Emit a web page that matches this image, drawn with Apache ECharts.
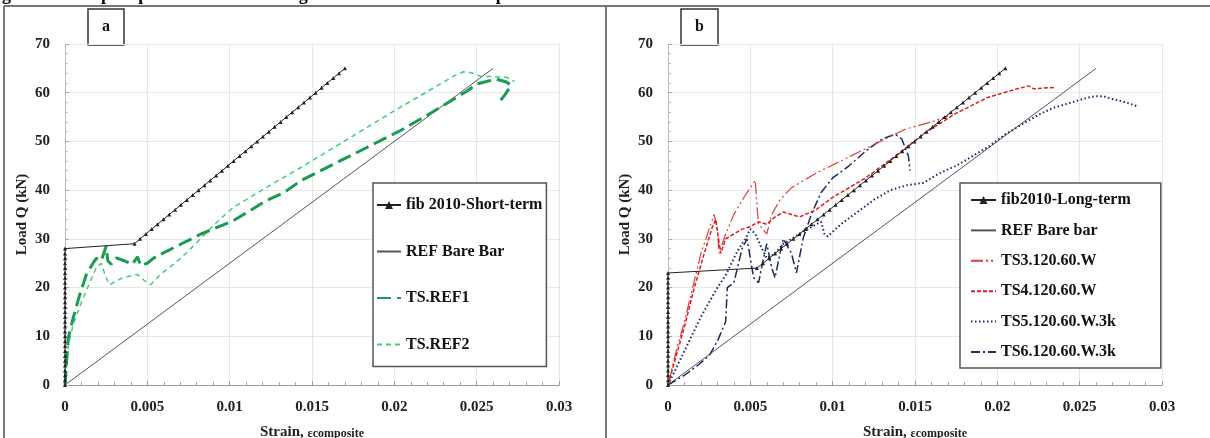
<!DOCTYPE html>
<html>
<head>
<meta charset="utf-8">
<style>
  html, body { margin: 0; padding: 0; background: #fff; }
  #chart { width: 1210px; height: 438px; }
</style>
<script src="https://cdn.jsdelivr.net/npm/echarts@6/dist/echarts.min.js"></script>
</head>
<body>
<div id="chart"></div>
<script>
// ---- panel a : strain vs load (x = strain, y = load Q in kN) ----
const fibShortTerm = [
  [0,0],[0,1],[0,2],[0,3],[0,4],[0,5],[0,6],[0,7],[0,8],[0,9],[0,10],[0,11],[0,12],[0,13],[0,14],
  [0,15],[0,16],[0,17],[0,18],[0,19],[0,20],[0,21],[0,22],[0,23],[0,24],[0,25],[0,26],[0,27],[0,28],
  [0.00422,29],[0.00456,30],[0.00491,31],[0.00527,32],[0.00562,33],[0.00598,34],[0.00633,35],
  [0.00669,36],[0.00704,37],[0.0074,38],[0.00776,39],[0.00811,40],[0.00847,41],[0.00882,42],
  [0.00918,43],[0.00953,44],[0.00989,45],[0.01024,46],[0.0106,47],[0.01096,48],[0.01131,49],
  [0.01167,50],[0.01202,51],[0.01238,52],[0.01273,53],[0.01309,54],[0.01344,55],[0.0138,56],
  [0.01416,57],[0.01451,58],[0.01487,59],[0.01522,60],[0.01558,61],[0.01593,62],[0.01629,63],
  [0.01664,64],[0.017,65]
]
const refBareA = [[0,0],[0.026,65]]
const tsRef1 = [
  [0,0],[0.0001,5],[0.0002,9.7],[0.0005,13.8],[0.0009,18.6],[0.0013,22.7],[0.0017,25],[0.0019,26],
  [0.0022,25.5],[0.0025,28.5],[0.0026,25.5],[0.0028,24.8],[0.0031,26.1],[0.0036,25.5],[0.0041,24.8],
  [0.0044,26.3],[0.0046,24.5],[0.005,25],[0.0054,26.1],[0.0062,27.5],[0.0072,29.2],[0.0082,30.9],
  [0.0092,32.3],[0.0102,33.7],[0.0112,35.7],[0.0122,37.8],[0.0133,39.5],[0.0143,41.9],[0.0163,45.3],
  [0.0183,48.7],[0.0203,52.1],[0.0224,56.2],[0.0244,60.3],[0.025,61.8],[0.0256,62.3],[0.0262,62.8],
  [0.0268,62.2],[0.0271,61.5],[0.0267,59.5],[0.0264,58.2]
]
const tsRef2 = [
  [0,0],[0.0001,4],[0.0002,8],[0.0005,12.5],[0.001,17],[0.0015,21],[0.0019,24.1],[0.0022,25],
  [0.0025,22],[0.0027,20.6],[0.0031,21.3],[0.0035,22],[0.0044,22.7],[0.0048,21.5],[0.0052,20.6],
  [0.0058,22.7],[0.0066,24.8],[0.0075,27.5],[0.0085,31],[0.0094,34],[0.0102,36.4],[0.0122,40.5],
  [0.0143,44.6],[0.0163,48.7],[0.0183,52.8],[0.0203,56.9],[0.0224,61],[0.0236,63.4],[0.0242,64.3],
  [0.0248,64],[0.0252,63.4],[0.026,63.3],[0.0268,63.2],[0.0273,62.3]
]

// ---- panel b ----
const fibLongTerm = [
  [0,0],[0,1],[0,2],[0,3],[0,4],[0,5],[0,6],[0,7],[0,8],[0,9],[0,10],[0,11],[0,12],[0,13],[0,14],
  [0,15],[0,16],[0,17],[0,18],[0,19],[0,20],[0,21],[0,22],[0,23],
  [0.0054,24],[0.00577,25],[0.00614,26],[0.0065,27],[0.00687,28],[0.00724,29],[0.00761,30],
  [0.00798,31],[0.00834,32],[0.00871,33],[0.00908,34],[0.00945,35],[0.00982,36],[0.01018,37],
  [0.01055,38],[0.01092,39],[0.01129,40],[0.01166,41],[0.01202,42],[0.01239,43],[0.01276,44],
  [0.01313,45],[0.0135,46],[0.01386,47],[0.01423,48],[0.0146,49],[0.01497,50],[0.01534,51],
  [0.0157,52],[0.01607,53],[0.01644,54],[0.01681,55],[0.01718,56],[0.01754,57],[0.01791,58],
  [0.01828,59],[0.01865,60],[0.01902,61],[0.01938,62],[0.01975,63],[0.02012,64],[0.02049,65]
]
const refBareB = [[0,0],[0.026,65]]
const ts3 = [
  [0,0],[0.0005,7],[0.001,13],[0.0015,20],[0.002,27],[0.0025,32],[0.0028,35],[0.003,32],[0.0031,27],
  [0.0035,31],[0.004,35],[0.0047,39],[0.0053,42],[0.0054,37],[0.0055,33],[0.006,31],[0.0063,35],
  [0.0068,38],[0.0075,40.5],[0.009,43.5],[0.0105,46],[0.012,48.5],[0.0135,51],[0.0144,52.5],
  [0.016,54],[0.017,55.2]
]
const ts4 = [
  [0,0],[0.0005,6],[0.001,12],[0.0016,20],[0.0022,27],[0.0027,32.5],[0.0029,34],[0.0032,27],
  [0.0035,30],[0.004,31],[0.0045,32],[0.005,32.5],[0.0055,33.5],[0.006,33],[0.0065,34.5],
  [0.007,35.5],[0.0075,35],[0.008,34.5],[0.009,36],[0.01,38.5],[0.012,42.5],[0.014,47.5],
  [0.0155,51.5],[0.0174,55.6],[0.0194,59],[0.0211,60.7],[0.0219,61.4],[0.0222,60.8],[0.0235,61.1]
]
const ts5 = [
  [0,0],[0.0005,3.5],[0.001,7],[0.0015,10.5],[0.002,14],[0.0025,17],[0.003,20],[0.0035,22.5],
  [0.004,26],[0.0043,28],[0.0047,30],[0.005,32],[0.0053,31],[0.0057,28],[0.006,26],[0.0065,27],
  [0.007,29],[0.0075,30],[0.008,31],[0.0085,32],[0.009,33],[0.0093,33.5],[0.0095,31],[0.0097,30.5],
  [0.0105,33],[0.0115,35.5],[0.0125,38],[0.0135,40],[0.0145,41],[0.0155,41.5],[0.0165,43.5],
  [0.0175,45],[0.0185,47],[0.0195,49],[0.0205,51.5],[0.0215,53.5],[0.0225,55.5],[0.0235,57],
  [0.0245,58],[0.0255,59],[0.026,59.3],[0.0265,59.2],[0.027,58.7],[0.0275,58.3],[0.028,57.8],[0.0285,57.2]
]
const ts6 = [
  [0,0],[0.001,2],[0.0018,4],[0.0025,6],[0.003,9],[0.0035,13],[0.0036,20],[0.004,21],[0.0045,28],
  [0.0048,30],[0.005,26],[0.0052,22],[0.0055,21],[0.0058,26],[0.006,29],[0.0063,24],[0.0065,22],
  [0.0068,27],[0.007,30],[0.0075,27],[0.0078,23],[0.0082,30],[0.0087,35],[0.0093,39.5],[0.01,42.5],
  [0.011,45],[0.012,48],[0.013,50.5],[0.0138,51.5],[0.0142,50.5],[0.0146,47],[0.0147,44]
]

const FONT = '"Liberation Serif", "Times New Roman", serif'

function xAxisFor(gridIndex) {
  return {
    gridIndex: gridIndex,
    type: 'value',
    min: 0,
    max: 0.03,
    interval: 0.005,
    name: '{a|Strain, }{b|εcomposite}',
    nameLocation: 'middle',
    nameGap: 40,
    nameMoveOverlap: false,
    nameTextStyle: {
      rich: {
        a: { fontFamily: FONT, fontWeight: 'bold', fontSize: 15, color: '#222' },
        b: { fontFamily: FONT, fontWeight: 'bold', fontSize: 12, color: '#222', padding: [3, 0, 0, 0] }
      }
    },
    axisLine: { lineStyle: { color: '#999', width: 1 } },
    axisTick: { inside: true, length: 4, lineStyle: { color: '#999' } },
    minorTick: { show: true, splitNumber: 5, length: 3, lineStyle: { color: '#aaa' } },
    axisLabel: { fontFamily: FONT, fontWeight: 'bold', fontSize: 15, color: '#222', margin: 15 },
    splitLine: { show: true, lineStyle: { color: '#e6e6e6' } }
  }
}
function yAxisFor(gridIndex) {
  return {
    gridIndex: gridIndex,
    type: 'value',
    min: 0,
    max: 70,
    interval: 10,
    name: 'Load Q (kN)',
    nameLocation: 'middle',
    nameGap: 35,
    nameRotate: 90,
    nameTextStyle: { fontFamily: FONT, fontWeight: 'bold', fontSize: 15, color: '#222' },
    axisLine: { show: true, lineStyle: { color: '#bbb', width: 1 } },
    axisTick: { inside: true, length: 4, lineStyle: { color: '#aaa' } },
    minorTick: { show: true, splitNumber: 5, length: 3, lineStyle: { color: '#bbb' } },
    axisLabel: { fontFamily: FONT, fontWeight: 'bold', fontSize: 15, color: '#222', margin: 15 },
    splitLine: { show: true, lineStyle: { color: '#e6e6e6' } }
  }
}

function lineSeries(name, data, axis, color, width, dash, extra) {
  return Object.assign({
    name: name,
    type: 'line',
    xAxisIndex: axis,
    yAxisIndex: axis,
    data: data,
    symbol: 'none',
    color: color,
    lineStyle: { color: color, width: width, type: dash },
    animation: false
  }, extra || {})
}

// legend entries: only the fib lines show a marker in their key
function plainKey(name) {
  return { name: name, itemStyle: { opacity: 0 } }
}

const legendText = { fontFamily: FONT, fontWeight: 'bold', fontSize: 16, color: '#111' }

const option = {
  backgroundColor: '#fff',
  animation: false,
  grid: [
    { left: 65, top: 44, width: 494, height: 341, outerBoundsMode: 'none' },
    { left: 668, top: 44, width: 494, height: 341, outerBoundsMode: 'none' }
  ],
  xAxis: [xAxisFor(0), xAxisFor(1)],
  yAxis: [yAxisFor(0), yAxisFor(1)],
  legend: [
    {
      data: [{ name: 'fib 2010-Short-term' }, plainKey('REF Bare Bar'), plainKey('TS.REF1'), plainKey('TS.REF2')],
      orient: 'vertical', left: 373, top: 183,
      padding: [14, 4, 14, 3], itemGap: 30.5, itemWidth: 24, itemHeight: 10,
      borderColor: '#555', borderWidth: 1.5, backgroundColor: '#fff',
      selectedMode: false, textStyle: legendText
    },
    {
      data: [{ name: 'fib2010-Long-term' }, plainKey('REF Bare bar'), plainKey('TS3.120.60.W'),
        plainKey('TS4.120.60.W'), plainKey('TS5.120.60.W.3k'), plainKey('TS6.120.60.W.3k')],
      orient: 'vertical', left: 960, top: 183,
      padding: [9, 30, 8, 10], itemGap: 14.4, itemWidth: 25, itemHeight: 10,
      borderColor: '#555', borderWidth: 1.5, backgroundColor: '#fff',
      selectedMode: false, textStyle: legendText
    }
  ],
  series: [
    lineSeries('REF Bare Bar', refBareA, 0, '#555', 1, 'solid'),
    lineSeries('TS.REF2', tsRef2, 0, '#3fcf78', 1.5, [5, 4]),
    lineSeries('TS.REF1', tsRef1, 0, '#1a9a52', 3, [14, 6]),
    lineSeries('fib 2010-Short-term', fibShortTerm, 0, '#222', 1, 'solid',
      { symbol: 'triangle', symbolSize: 4, showSymbol: true, itemStyle: { color: '#222' } }),

    lineSeries('REF Bare bar', refBareB, 1, '#555', 1, 'solid'),
    lineSeries('TS5.120.60.W.3k', ts5, 1, '#1b2a6b', 2, [1.5, 2.5]),
    lineSeries('TS6.120.60.W.3k', ts6, 1, '#1c2a5c', 1.5, [9, 3, 2, 3]),
    lineSeries('TS3.120.60.W', ts3, 1, '#e23a3a', 1.2, [12, 3, 2, 3, 2, 3]),
    lineSeries('TS4.120.60.W', ts4, 1, '#e01e1e', 1.5, [4, 2]),
    lineSeries('fib2010-Long-term', fibLongTerm, 1, '#222', 1, 'solid',
      { symbol: 'triangle', symbolSize: 4, showSymbol: true, itemStyle: { color: '#222' } })
  ],
  graphic: {
    elements: [
      // caption of the figure, cut off by the top edge
      { type: 'text', left: -14, top: -14, z: 10,
        style: { text: 'Fig. 6. Load-slip response and surface degradation of all assessed specimens.',
          font: 'bold 18px ' + FONT, fill: '#000' } },
      // panel frames
      { type: 'line', shape: { x1: 4, y1: 6, x2: 1210, y2: 6 }, style: { stroke: '#777', lineWidth: 2 } },
      { type: 'line', shape: { x1: 4, y1: 6, x2: 4, y2: 438 }, style: { stroke: '#777', lineWidth: 2 } },
      { type: 'line', shape: { x1: 606, y1: 6, x2: 606, y2: 438 }, style: { stroke: '#777', lineWidth: 2 } },
      // panel tags
      { type: 'rect', shape: { x: 88, y: 9, width: 36, height: 36 }, style: { fill: '#fff', stroke: '#333', lineWidth: 1.5 } },
      { type: 'text', x: 106, y: 27, style: { text: 'a', font: 'bold 16px ' + FONT, fill: '#111', align: 'center', verticalAlign: 'middle' } },
      { type: 'rect', shape: { x: 681, y: 9, width: 37, height: 36 }, style: { fill: '#fff', stroke: '#333', lineWidth: 1.5 } },
      { type: 'text', x: 699.5, y: 27, style: { text: 'b', font: 'bold 16px ' + FONT, fill: '#111', align: 'center', verticalAlign: 'middle' } }
    ]
  }
}

const myChart = echarts.init(document.getElementById('chart'))
myChart.setOption(option)
</script>
</body>
</html>
